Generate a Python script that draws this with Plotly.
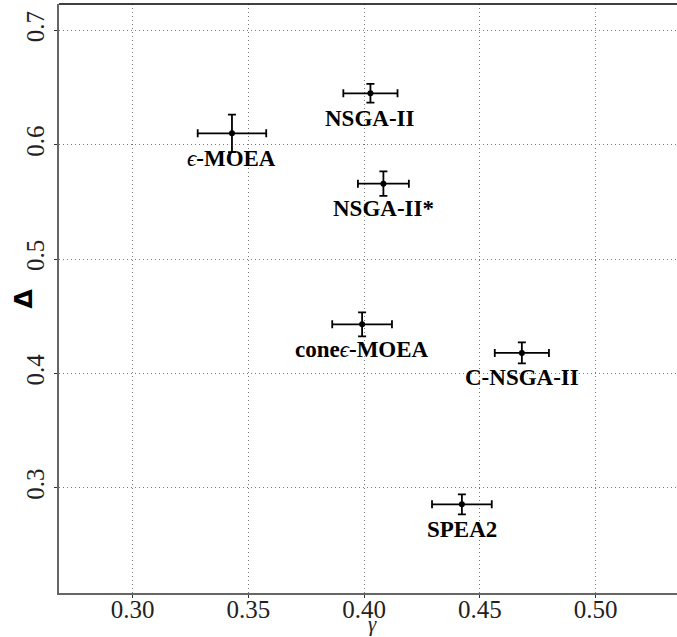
import plotly.graph_objects as go

# data
algorithms = ["NSGA-II", "NSGA-II*", "ϵ-MOEA", "coneϵ-MOEA", "C-NSGA-II", "SPEA2"]
gamma = [0.4027, 0.4083, 0.3429, 0.3991, 0.4681, 0.4422]
delta = [0.645, 0.566, 0.610, 0.443, 0.418, 0.2856]
gamma_err = [0.0117, 0.0110, 0.0148, 0.0129, 0.0117, 0.0129]
delta_err = [0.0082, 0.0107, 0.0164, 0.0105, 0.0092, 0.0088]

x_ticks = [0.30, 0.35, 0.40, 0.45, 0.50]
x_tick_labels = ["0.30", "0.35", "0.40", "0.45", "0.50"]
y_ticks = [0.3, 0.4, 0.5, 0.6, 0.7]
y_tick_labels = ["0.3", "0.4", "0.5", "0.6", "0.7"]

def rich(name):
    if "ϵ" in name:
        pre, post = name.split("ϵ")
        s = ""
        if pre:
            s += "<b>" + pre + "</b>"
        s += "<i>ϵ</i>"
        s += "<b>" + post + "</b>"
        return s
    return "<b>" + name + "</b>"

fig = go.Figure()
fig.add_trace(go.Scatter(
    x=gamma, y=delta, mode="markers",
    marker=dict(color="black", size=6),
    error_x=dict(type="data", array=gamma_err, color="black", thickness=1.8, width=4),
    error_y=dict(type="data", array=delta_err, color="black", thickness=1.8, width=4),
    showlegend=False, hoverinfo="skip",
))

for name, gx, dy in zip(algorithms, gamma, delta):
    fig.add_annotation(
        x=gx, y=dy, xref="x", yref="y", text=rich(name), showarrow=False,
        yshift=-25, xanchor="center", yanchor="middle",
        font=dict(family="Liberation Serif", size=23, color="black"),
    )

# axis titles
fig.add_annotation(
    x=0.508, y=0, xref="paper", yref="paper", text="<i>γ</i>", showarrow=False,
    yshift=-44, xanchor="center", yanchor="bottom", borderpad=0,
    font=dict(family="Liberation Serif", size=21, color="#222"),
)
fig.add_annotation(
    x=0, y=0.5, xref="paper", yref="paper", text="<b>Δ</b>", showarrow=False,
    xshift=-36, xanchor="center", yanchor="middle", textangle=-90,
    font=dict(family="DejaVu Sans", size=25, color="black"),
)

# top border
fig.add_shape(type="line", xref="paper", yref="paper", x0=0, x1=1, y0=1, y1=1,
              line=dict(color="black", width=1.5))

grid_dash = "1px,3px"
fig.update_xaxes(
    range=[0.2682, 0.5351], tickvals=x_ticks, ticktext=x_tick_labels,
    showgrid=True, gridcolor="#777", griddash=grid_dash, gridwidth=1,
    showline=True, linecolor="#666", linewidth=2,
    ticks="outside", ticklen=3, tickcolor="#333", tickwidth=1,
    ticklabelstandoff=-10,
    tickfont=dict(family="Liberation Serif", size=25, color="#222"),
    zeroline=False,
)
fig.update_yaxes(
    range=[0.2081, 0.7231], tickvals=y_ticks, ticktext=y_tick_labels,
    showgrid=True, gridcolor="#777", griddash=grid_dash, gridwidth=1,
    showline=True, linecolor="#666", linewidth=2,
    ticks="outside", ticklen=3, tickcolor="#333", tickwidth=1,
    tickangle=-90,
    tickfont=dict(family="Liberation Serif", size=25, color="#222"),
    zeroline=False,
)
fig.update_layout(
    width=677, height=637,
    margin=dict(l=59, r=0, t=4, b=44),
    paper_bgcolor="white", plot_bgcolor="white",
)
fig.write_html("out.html")
